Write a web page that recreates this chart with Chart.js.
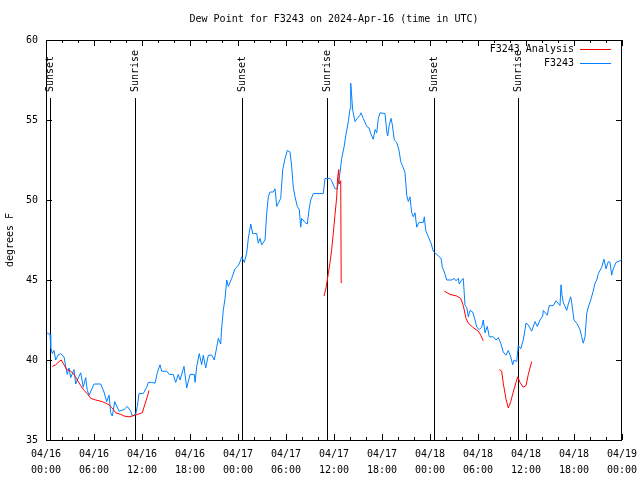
<!DOCTYPE html>
<html lang="en">
<head>
<meta charset="UTF-8">
<title>Dew Point for F3243</title>
<script src="https://cdn.jsdelivr.net/npm/chart.js"></script>
<style>
    html, body { margin: 0; padding: 0; background: #fff; }
    canvas { display: block; }
</style>
</head>
<body>
<canvas id="dewChart" width="640" height="480"></canvas>
<script>
    // hours since 2024-04-16 00:00 UTC
    const blueHours = [0.09, 0.5, 0.59, 0.79, 1.0, 1.21, 1.5, 1.84, 2.25, 2.46, 2.66, 2.88, 3.09, 3.5, 3.71, 3.91,
        4.34, 4.66, 4.96, 5.16, 5.38, 5.79, 6.0, 6.84, 7.25, 7.59, 7.88, 8.09, 8.29, 8.59, 9.13, 9.75, 10.16, 10.59,
        10.79, 11.21, 11.41, 11.63, 12.16, 12.59, 12.79, 13.21, 13.63, 13.91, 14.25, 14.46, 15.09, 15.41, 15.91, 16.21,
        16.54, 16.75, 17.25, 17.59, 18.0, 18.54, 18.63, 18.84, 19.16, 19.46, 19.66, 19.96, 20.29, 20.71, 21.04, 21.34,
        21.54, 21.84, 21.96, 22.16, 22.38, 22.59, 22.79, 23.21, 23.63, 24.04, 24.34, 24.46, 24.79, 25.09, 25.29, 25.59,
        25.84, 26.34, 26.54, 26.75, 26.96, 27.38, 27.59, 27.79, 28.0, 28.41, 28.63, 28.84, 29.04, 29.34, 29.59, 29.88,
        30.16, 30.5, 30.71, 30.91, 31.13, 31.41, 31.66, 31.84, 31.96, 32.38, 32.66, 32.91, 33.09, 33.41, 34.66, 34.88,
        35.5, 35.71, 36.13, 36.41, 36.75, 36.96, 37.25, 37.5, 37.79, 38.0, 38.09, 38.34, 38.63, 38.91, 39.25, 39.38,
        39.66, 40.09, 40.38, 40.63, 40.91, 41.13, 41.34, 41.54, 41.75, 42.38, 42.59, 42.71, 42.91, 43.13, 43.29, 43.54,
        43.84, 44.13, 44.34, 44.59, 44.88, 45.09, 45.29, 45.5, 45.71, 45.91, 46.13, 46.34, 46.63, 47.16, 47.29, 47.46,
        47.79, 48.13, 48.41, 48.63, 49.38, 49.54, 49.79, 50.09, 50.71, 51.04, 51.25, 51.54, 51.66, 51.96, 52.16, 52.38,
        52.59, 52.79, 53.0, 53.34, 53.63, 53.84, 54.16, 54.46, 54.66, 54.88, 55.16, 55.41, 55.91, 56.25, 56.54, 56.84,
        57.16, 57.5, 57.79, 58.09, 58.34, 58.5, 58.84, 59.04, 59.34, 59.66, 59.88, 60.0, 60.29, 60.71, 61.13, 61.41,
        61.75, 62.09, 62.16, 62.66, 62.91, 63.41, 63.75, 64.25, 64.38, 64.5, 64.66, 65.09, 65.29, 65.59, 65.71, 66.0,
        66.34, 66.75, 66.96, 67.16, 67.38, 67.59, 67.79, 68.09, 68.34, 68.63, 68.84, 69.04, 69.46, 69.75, 70.0, 70.29,
        70.5, 70.71, 70.91, 71.25, 71.75, 71.96];
    const blueDewPoint = [41.7, 41.6, 40.8, 40.4, 40.6, 40.0, 40.3, 40.4, 40.2, 39.6, 39.1, 39.5, 38.9, 39.4, 38.5, 38.75,
        39.2, 38.3, 38.9, 38.1, 37.8, 38.25, 38.5, 38.5, 38.0, 37.4, 37.8, 36.7, 36.5, 37.4, 36.8, 36.9, 37.1, 36.8,
        36.5, 36.6, 37.1, 37.9, 37.9, 38.3, 38.6, 38.6, 38.55, 39.2, 39.7, 39.3, 39.3, 39.1, 39.1, 38.6,
        39.1, 38.75, 39.6, 38.25, 39.1, 39.1, 38.6, 39.6, 40.4, 39.7, 40.3, 39.5, 40.3, 40.3, 40.0, 40.8,
        41.35, 41.0, 42.0, 43.1, 43.85, 45.0, 44.6, 45.1, 45.7, 45.9, 46.25, 46.45, 46.1, 46.7, 47.6, 48.5,
        47.9, 47.9, 47.3, 47.6, 47.2, 47.5, 49.2, 50.2, 50.5, 50.5, 50.7, 49.6, 49.8, 50.1, 51.9, 52.6,
        53.1, 53.0, 52.1, 50.8, 50.2, 49.6, 49.4, 48.3, 48.85, 48.6, 48.5, 49.5, 50.0, 50.4, 50.4, 51.35,
        51.35, 51.2, 50.7, 50.7, 51.7, 52.6, 53.3, 54.1, 54.9, 55.7, 57.3, 55.6, 54.9, 55.1, 55.3, 55.45,
        55.1, 54.6, 54.5, 54.1, 53.8, 54.4, 54.2, 55.1, 55.45, 55.4, 54.3, 54.0, 54.7, 55.1, 54.7, 53.75,
        53.6, 53.1, 52.4, 52.1, 51.7, 50.3, 49.9, 50.2, 49.2, 48.95, 49.2, 48.3, 48.6, 48.6, 48.95, 48.1,
        47.7, 47.3, 46.8, 46.7, 46.35, 45.8, 45.5, 45.0, 45.0, 45.1, 44.95, 45.1, 44.75, 45.0, 45.1, 43.4,
        43.3, 42.7, 43.1, 43.0, 42.5, 42.05, 41.9, 42.05, 42.5, 41.7, 42.1, 41.45, 41.45, 41.25, 41.4, 41.05,
        40.5, 40.3, 40.6, 40.2, 39.7, 40.0, 39.9, 40.9, 40.7, 41.25, 41.9, 42.3, 42.2, 41.8, 42.4, 42.1,
        42.5, 42.75, 43.1, 42.8, 43.4, 43.4, 43.7, 43.4, 44.7, 44.05, 43.6, 43.1, 43.5, 43.95, 43.6, 42.5,
        42.3, 41.9, 41.45, 41.05, 41.45, 42.9, 43.3, 43.75, 44.2, 44.8, 45.0, 45.4, 45.8, 46.3, 45.7, 46.15,
        46.1, 45.3, 45.7, 46.1, 46.2, 46.3];

    // analysis series, null = gap
    const analysisHours = [0.79, 1.21, 1.63, 1.91, 2.25, 2.59, 3.09, 3.5, 3.91, 4.34, 4.75, 5.16, 5.59, 6.21, 6.63,
        7.04, 7.46, 7.88, 8.29, 8.71, 9.34, 9.75, 10.38, 10.79, 11.41, 12.04, 12.34, 12.66, 12.88,
        20,
        34.75, 35.0, 35.29, 35.5, 35.71, 35.91, 36.13, 36.34, 36.46, 36.59, 36.66, 36.84, 36.9,
        42,
        49.79, 50.5, 51.34, 51.84, 52.16, 52.5, 52.79, 53.34, 53.75, 54.04, 54.34, 54.66,
        55.5,
        56.66, 56.96, 57.16, 57.5, 57.79, 58.09, 58.41, 58.75, 58.96, 59.25, 59.66, 60.0, 60.29, 60.71];
    const analysisDewPoint = [39.6, 39.7, 39.9, 40.0, 39.7, 39.4, 39.3, 39.1, 38.75, 38.4, 38.1, 37.9, 37.6, 37.5, 37.45,
        37.4, 37.3, 37.2, 37.0, 36.7, 36.6, 36.5, 36.45, 36.5, 36.6, 36.7, 37.2, 37.7, 38.1,
        null,
        44.0, 44.5, 45.4, 46.1, 46.9, 47.9, 49.1, 50.2, 51.45, 51.9, 51.0, 51.2, 44.8,
        null,
        44.3, 44.1, 44.0, 43.85, 43.4, 42.6, 42.3, 42.05, 41.9, 41.8, 41.55, 41.2,
        null,
        39.4, 39.3, 38.55, 37.55, 37.0, 37.4, 38.0, 38.6, 38.95, 38.6, 38.3, 38.4, 39.1, 39.9];

    const sunHours = [0.5, 11.12, 24.5, 35.12, 48.5, 59.0];
    const sunLabels = ['Sunset', 'Sunrise', 'Sunset', 'Sunrise', 'Sunset', 'Sunrise'];

    const xTickLabels = [
        ['04/16', '00:00'], ['04/16', '06:00'], ['04/16', '12:00'], ['04/16', '18:00'],
        ['04/17', '00:00'], ['04/17', '06:00'], ['04/17', '12:00'], ['04/17', '18:00'],
        ['04/18', '00:00'], ['04/18', '06:00'], ['04/18', '12:00'], ['04/18', '18:00'],
        ['04/19', '00:00']
    ];

    const seriesNames = ['F3243 Analysis', 'F3243'];
    const seriesColors = ['#ff0000', '#0080ff'];
    const chartTitle = 'Dew Point for F3243 on 2024-Apr-16 (time in UTC)';

    const monoFamily = "'DejaVu Sans Mono', 'Liberation Mono', monospace";
    const monoFont = { family: monoFamily, size: 10, weight: 'normal', lineHeight: 1.2 };

    // title, frame, inward tick marks, sunrise / sunset markers and the legend
    const gnuplotBits = {
        id: 'gnuplotBits',
        beforeDatasetsDraw(chart) {
            const ctx = chart.ctx;
            const area = chart.chartArea;
            const xs = chart.scales.x;
            const ys = chart.scales.y;
            ctx.save();
            ctx.fillStyle = '#000';
            ctx.font = '10px ' + monoFamily;
            ctx.textAlign = 'center';
            ctx.textBaseline = 'middle';
            ctx.fillText(chartTitle, (area.left + area.right) / 2, 19);

            ctx.strokeStyle = '#000';
            ctx.lineWidth = 1;
            ctx.strokeRect(Math.round(area.left) + 0.5, Math.round(area.top) + 0.5,
                Math.round(area.right - area.left) - 1, Math.round(area.bottom - area.top));

            ctx.beginPath();
            for (let h = 0; h <= 72; h += 2) {
                const px = Math.round(xs.getPixelForValue(h)) + 0.5;
                const len = h % 6 === 0 ? 6 : 3;
                ctx.moveTo(px, area.bottom);
                ctx.lineTo(px, area.bottom - len);
                ctx.moveTo(px, area.top);
                ctx.lineTo(px, area.top + len);
            }
            for (let v = 35; v <= 60; v += 5) {
                const py = Math.round(ys.getPixelForValue(v)) + 0.5;
                ctx.moveTo(area.left, py);
                ctx.lineTo(area.left + 6, py);
                ctx.moveTo(area.right, py);
                ctx.lineTo(area.right - 6, py);
            }
            ctx.stroke();

            sunHours.forEach((h, i) => {
                const px = Math.round(xs.getPixelForValue(h)) + 0.5;
                ctx.beginPath();
                ctx.moveTo(px, 98);
                ctx.lineTo(px, area.bottom);
                ctx.stroke();
                ctx.save();
                ctx.translate(px, 92);
                ctx.rotate(-Math.PI / 2);
                ctx.textAlign = 'left';
                ctx.textBaseline = 'middle';
                ctx.fillText(sunLabels[i], 0, 0);
                ctx.restore();
            });
            ctx.restore();
        },
        afterDraw(chart) {
            const ctx = chart.ctx;
            ctx.save();
            ctx.font = '10px ' + monoFamily;
            ctx.textAlign = 'right';
            ctx.textBaseline = 'middle';
            seriesNames.forEach((name, i) => {
                const y = 49 + i * 14;
                ctx.fillStyle = '#000';
                ctx.fillText(name, 574, y);
                ctx.fillStyle = seriesColors[i];
                ctx.fillRect(580, y, 31, 1);
            });
            ctx.restore();
        }
    };

    const ctxDew = document.getElementById('dewChart').getContext('2d');
    new Chart(ctxDew, {
        type: 'line',
        data: {
            datasets: [{
                label: seriesNames[0],
                data: analysisHours.map((h, i) => ({ x: h, y: analysisDewPoint[i] })),
                borderColor: seriesColors[0],
                borderWidth: 1,
                pointRadius: 0,
                tension: 0,
                spanGaps: false
            }, {
                label: seriesNames[1],
                data: blueHours.map((h, i) => ({ x: h, y: blueDewPoint[i] })),
                borderColor: seriesColors[1],
                borderWidth: 1,
                pointRadius: 0,
                tension: 0
            }]
        },
        options: {
            responsive: false,
            animation: false,
            layout: { padding: { left: 0, right: 18, top: 40, bottom: 0 } },
            plugins: {
                legend: { display: false },
                tooltip: { enabled: false },
                title: { display: false }
            },
            scales: {
                x: {
                    type: 'linear',
                    min: 0,
                    max: 72,
                    afterFit: scale => {
                        scale.height = 40;
                        scale.paddingLeft = 0;
                        scale.paddingRight = 0;
                    },
                    grid: { display: false, drawTicks: false },
                    border: { display: false },
                    ticks: {
                        stepSize: 6,
                        autoSkip: false,
                        maxRotation: 0,
                        padding: 6,
                        color: '#000',
                        font: { family: monoFamily, size: 10, lineHeight: 1.6 },
                        callback: value => xTickLabels[Math.round(value / 6)]
                    }
                },
                y: {
                    min: 35,
                    max: 60,
                    afterFit: scale => { scale.width = 46; },
                    grid: { display: false, drawTicks: false },
                    border: { display: false },
                    ticks: {
                        stepSize: 5,
                        padding: 8,
                        color: '#000',
                        font: monoFont
                    },
                    title: {
                        display: true,
                        text: 'degrees F',
                        color: '#000',
                        font: monoFont,
                        padding: { top: 4, bottom: 0 }
                    }
                }
            }
        },
        plugins: [gnuplotBits]
    });
</script>
</body>
</html>
